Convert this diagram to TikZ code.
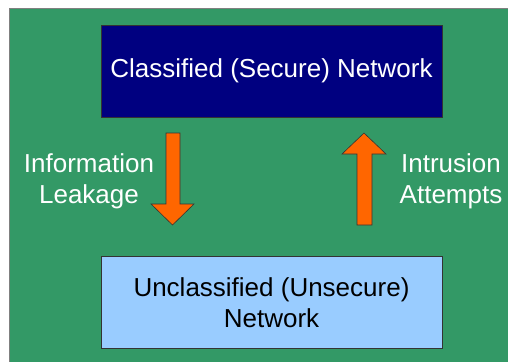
\documentclass[tikz,border=0pt]{standalone}
\usepackage{fontspec}
\setmainfont{Liberation Sans}
\usepackage{xcolor}
\usetikzlibrary{positioning}

\definecolor{bggreen}{HTML}{339966}
\definecolor{navybox}{HTML}{000080}
\definecolor{paleblue}{HTML}{99CCFF}
\definecolor{leakorange}{HTML}{FF6600}

\begin{document}
\begin{tikzpicture}[
  x=1pt, y=-1pt,
  node distance=139pt,
  netbox/.style={rectangle, draw=black!80, line width=0.6pt, minimum width=341pt, minimum height=92pt, align=center, font=\fontsize{26}{31}\selectfont},
  sidelabel/.style={align=center, text=white, font=\fontsize{26}{31}\selectfont},
  blockarrow/.style={fill=leakorange, draw=black!80, line width=0.6pt}
]
  \useasboundingbox (0,0) rectangle (508,361);
  \filldraw[fill=bggreen, draw=gray, line width=1pt] (9,9) rectangle (520,375);

  \node[netbox, fill=navybox, text=white] (secure) at (271.5,71) {Classified (Secure) Network};
  \node[netbox, fill=paleblue, below=of secure] (unsecure) {Unclassified (Unsecure)\\Network};

  \node[sidelabel] (leak) at (89,181) {Information\\Leakage};
  \node[sidelabel] (intrude) at (451,181) {Intrusion\\Attempts};

  % down arrow: leakage
  \filldraw[blockarrow] (166,133) -- (180,133) -- (180,204) -- (194,204)
    -- (172.5,225) -- (151,204) -- (166,204) -- cycle;
  % up arrow: intrusion
  \filldraw[blockarrow] (357,225) -- (372,225) -- (372,154) -- (386,154)
    -- (364,133) -- (342,154) -- (357,154) -- cycle;
\end{tikzpicture}
\end{document}
